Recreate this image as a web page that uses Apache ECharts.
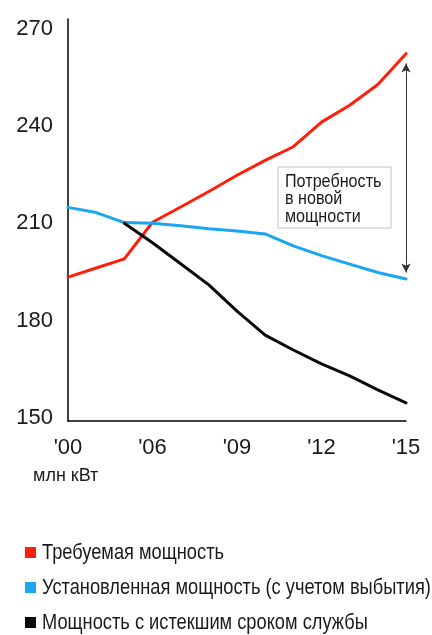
<!DOCTYPE html>
<html>
<head>
<meta charset="utf-8">
<script src="https://cdn.jsdelivr.net/npm/echarts@6/dist/echarts.min.js"></script>
<style>
  html, body { margin: 0; padding: 0; background: #fff; }
  #chart { width: 432px; height: 635px; }
</style>
</head>
<body>
<div id="chart"></div>
<script>
// Years on the horizontal axis: two-year steps until 2006, then yearly
const years = ['2000', '2002', '2004', '2006', '2007', '2008', '2009', '2010', '2011', '2012', '2013', '2014', '2015'];
const labelYears = ['2000', '2006', '2009', '2012', '2015'];
const yTicks = [150, 180, 210, 240, 270];

// Capacity, million kW
const required  = [193.4, 196.2, 199.0, 210.3, 215.0, 219.8, 224.8, 229.4, 233.6, 241.2, 246.4, 252.8, 262.3];
const installed = [214.9, 213.3, 210.2, 210.0, 209.2, 208.3, 207.6, 206.7, 203.0, 200.0, 197.4, 194.8, 192.8];
const retired   = [null, null, 210.0, 204.0, 197.5, 191.0, 182.9, 175.5, 170.9, 166.6, 162.9, 158.6, 154.6];

const seriesNames = [
  'Требуемая мощность',
  'Установленная мощность (с учетом выбытия)',
  'Мощность с истекшим сроком службы'
];
const unitLabel = 'млн кВт';
const gapNote = 'Потребность\nв новой\nмощности';

const plain = "'Liberation Sans', Arial, sans-serif";

const RED = '#ff1e0a';
const BLUE = '#1aa6f0';
const BLACK = '#0a0a0a';
const colors = [RED, BLUE, BLACK];

// condensed look: regular face squeezed horizontally
const LEGEND_SQUEEZE = 0.83;
const NOTE_SQUEEZE = 0.85;

const chart = echarts.init(document.getElementById('chart'), null, { renderer: 'canvas' });

const lastIdx = years.length - 1;

// legend rows drawn below the plot
const legendItems = seriesNames.map((name, i) => ({
  type: 'group',
  x: 25,
  y: 553 + i * 35,
  children: [
    { type: 'rect', shape: { x: 0, y: -6, width: 11, height: 11 }, style: { fill: colors[i] } },
    {
      type: 'text', x: 17, y: 0, scaleX: LEGEND_SQUEEZE,
      style: { text: name, fill: '#1a1a1a', font: '22px ' + plain, verticalAlign: 'middle' }
    }
  ]
}));

chart.setOption({
  backgroundColor: '#fff',
  animation: false,
  grid: { left: 68, right: 26, top: 19, bottom: 214, containLabel: false },
  xAxis: {
    type: 'category',
    data: years,
    boundaryGap: false,
    axisLine: { show: true, lineStyle: { color: '#000', width: 1.5 } },
    axisTick: { show: false },
    axisLabel: {
      interval: (i, v) => labelYears.includes(v),
      formatter: v => "'" + v.slice(2),
      color: '#1a1a1a',
      fontFamily: plain,
      fontSize: 22,
      margin: 16
    },
    splitLine: { show: false }
  },
  yAxis: {
    type: 'value',
    min: 149,
    max: 273,
    axisLine: { show: true, lineStyle: { color: '#000', width: 1.5 } },
    axisTick: { show: false },
    splitLine: { show: false },
    axisLabel: {
      customValues: yTicks,
      color: '#1a1a1a',
      fontFamily: plain,
      fontSize: 22,
      margin: 15
    }
  },
  series: [
    {
      name: seriesNames[0],
      type: 'line',
      data: required,
      symbol: 'none',
      lineStyle: { color: RED, width: 3, cap: 'round', join: 'round' },
      itemStyle: { color: RED },
      markLine: {
        silent: true,
        symbol: ['arrow', 'arrow'],
        symbolSize: [7, 9],
        lineStyle: { color: '#333', width: 1, type: 'solid' },
        label: { show: false },
        data: [[
          { coord: [years[lastIdx], required[lastIdx] - 3] },
          { coord: [years[lastIdx], installed[lastIdx] + 2] }
        ]]
      }
    },
    {
      name: seriesNames[1],
      type: 'line',
      data: installed,
      symbol: 'none',
      lineStyle: { color: BLUE, width: 3, cap: 'round', join: 'round' },
      itemStyle: { color: BLUE }
    },
    {
      name: seriesNames[2],
      type: 'line',
      data: retired,
      symbol: 'none',
      lineStyle: { color: BLACK, width: 3, cap: 'round', join: 'round' },
      itemStyle: { color: BLACK }
    }
  ],
  graphic: [
    {
      type: 'text',
      x: 33,
      y: 476,
      style: { text: unitLabel, fill: '#1a1a1a', font: '18px ' + plain, verticalAlign: 'middle' }
    },
    {
      type: 'group',
      x: 278,
      y: 167,
      children: [
        {
          type: 'rect',
          shape: { x: 0, y: 0, width: 113, height: 61 },
          style: { fill: '#fff', stroke: '#c4c4c4', lineWidth: 1 }
        },
        {
          type: 'text',
          x: 7,
          y: 6,
          scaleX: NOTE_SQUEEZE,
          style: {
            text: gapNote,
            fill: '#1a1a1a',
            font: '19px ' + plain,
            lineHeight: 17.5
          }
        }
      ]
    }
  ].concat(legendItems)
});
</script>
</body>
</html>
